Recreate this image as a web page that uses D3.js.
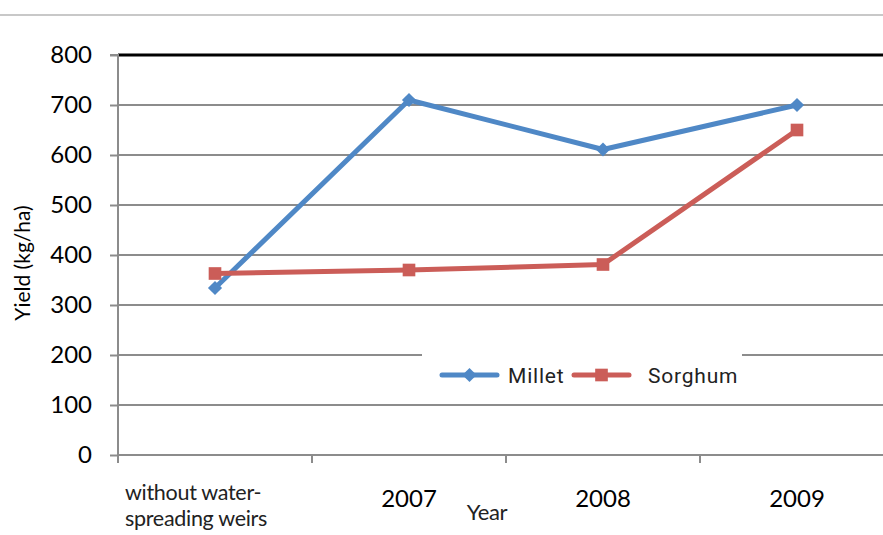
<!DOCTYPE html>
<html>
<head>
<meta charset="utf-8">
<script src="https://cdn.jsdelivr.net/npm/d3@7"></script>
<style>
  body { margin: 0; background: #fff; }
  svg { display: block; }
</style>
</head>
<body>
<svg id="chart"></svg>
<script>
let categories = ["without water-\nspreading weirs", "2007", "2008", "2009"];
let millet = [334, 710, 611, 700];
let sorghum = [363, 370, 381, 650];
let yTicks = [0, 100, 200, 300, 400, 500, 600, 700, 800];

let width = 883;
let height = 535;
let plotLeft = 118, plotTop = 55, plotBottom = 455;
let mainFont = 'Lato, "Open Sans", sans-serif';

let svg = d3.select('#chart').attr('width', width).attr('height', height);

// thin rule at the very top
svg.append('line')
  .attr('x1', 0).attr('x2', width)
  .attr('y1', 15).attr('y2', 15)
  .attr('stroke', '#c8c8c8').attr('stroke-width', 2);

let xScale = d3.scaleBand()
  .domain(categories)
  .range([plotLeft, plotLeft + 194 * 4]);
let yScale = d3.scaleLinear()
  .domain([0, 800])
  .range([plotBottom, plotTop]);

// gridlines
svg.append('g')
  .selectAll('line')
  .data(yTicks.filter(d => d > 0))
  .enter()
  .append('line')
  .attr('x1', plotLeft).attr('x2', width)
  .attr('y1', d => yScale(d)).attr('y2', d => yScale(d))
  .attr('stroke', d => d === 800 ? '#000' : '#8c8c8c')
  .attr('stroke-width', d => d === 800 ? 3 : 2);

// y axis
let yAxis = d3.axisLeft(yScale).tickValues(yTicks).tickSize(8).tickPadding(18);
let gy = svg.append('g')
  .attr('transform', 'translate(' + plotLeft + ',0)')
  .call(yAxis);
gy.select('.domain').attr('stroke', '#8c8c8c').attr('stroke-width', 2)
  .attr('d', 'M-8,' + plotTop + 'H0V' + (plotBottom + 8));
gy.selectAll('.tick line').attr('stroke', '#8c8c8c').attr('stroke-width', 2);
gy.selectAll('.tick text')
  .style('font-family', mainFont)
  .style('font-size', '24px')
  .attr('fill', '#000');

// x axis
let xAxis = d3.axisBottom(xScale).tickSize(0).tickFormat('');
let gx = svg.append('g')
  .attr('transform', 'translate(0,' + plotBottom + ')')
  .call(xAxis);
gx.select('.domain').attr('stroke', '#8c8c8c').attr('stroke-width', 2)
  .attr('d', 'M' + plotLeft + ',0H' + width);
let bounds = categories.map(c => xScale(c)).concat([xScale.range()[1]]);
gx.selectAll('.xt')
  .data(bounds)
  .enter()
  .append('line')
  .attr('x1', d => d).attr('x2', d => d)
  .attr('y1', 0).attr('y2', 8)
  .attr('stroke', '#8c8c8c').attr('stroke-width', 2);

categories.forEach((c, i) => {
  let lines = c.split('\n');
  let lx = i === 0 ? 125 : xScale(c) + xScale.bandwidth() / 2;
  let t = svg.append('text')
    .attr('x', lx)
    .attr('y', i === 0 ? 500 : 507)
    .attr('text-anchor', i === 0 ? 'start' : 'middle')
    .style('font-family', mainFont)
    .style('font-size', i === 0 ? '21.5px' : '24px')
    .style('letter-spacing', i === 0 ? '-0.3px' : '0px')
    .attr('fill', i === 0 ? '#222' : '#000');
  lines.forEach((l, j) => {
    t.append('tspan')
      .attr('x', lx)
      .attr('dy', j === 0 ? 0 : 26)
      .text(l);
  });
});

svg.append('text')
  .attr('x', 487).attr('y', 520)
  .attr('text-anchor', 'middle')
  .style('font-family', mainFont)
  .style('font-size', '22px')
  .style('letter-spacing', '-0.4px')
  .attr('fill', '#222')
  .text('Year');

svg.append('text')
  .attr('transform', 'translate(30,263) rotate(-90)')
  .attr('text-anchor', 'middle')
  .style('font-family', mainFont)
  .style('font-size', '21px')
  .attr('fill', '#000')
  .text('Yield (kg/ha)');

// series
let cx = c => xScale(c) + xScale.bandwidth() / 2;
let line = d3.line()
  .x((d, i) => cx(categories[i]))
  .y(d => yScale(d));

let series = [
  { name: 'Millet', values: millet, color: '#4f88c6', size: 100, rotate: 45 },
  { name: 'Sorghum', values: sorghum, color: '#cb5d58', size: 160, rotate: 0 }
];

series.forEach(s => {
  svg.append('path')
    .attr('d', line(s.values))
    .attr('fill', 'none')
    .attr('stroke', s.color)
    .attr('stroke-width', 5)
    .attr('stroke-linejoin', 'round');
  svg.selectAll('.pt-' + s.name)
    .data(s.values)
    .enter()
    .append('path')
    .attr('d', d3.symbol().type(d3.symbolSquare).size(s.size))
    .attr('transform', (d, i) => 'translate(' + cx(categories[i]) + ',' + yScale(d) + ') rotate(' + s.rotate + ')')
    .attr('fill', s.color);
});

// legend
let legend = svg.append('g').attr('transform', 'translate(422,349)');
legend.append('rect')
  .attr('width', 320).attr('height', 50)
  .attr('fill', '#fff');
let legendX = [20, 152];
let textX = [86, 226];
series.forEach((s, i) => {
  legend.append('line')
    .attr('x1', legendX[i]).attr('x2', legendX[i] + 55)
    .attr('y1', 26).attr('y2', 26)
    .attr('stroke', s.color).attr('stroke-width', 5)
    .attr('stroke-linecap', 'round');
  legend.append('path')
    .attr('d', d3.symbol().type(d3.symbolSquare).size(s.size))
    .attr('transform', 'translate(' + (legendX[i] + 27.5) + ',26) rotate(' + s.rotate + ')')
    .attr('fill', s.color);
  legend.append('text')
    .attr('x', textX[i]).attr('y', 34)
    .style('font-family', 'Roboto, sans-serif')
    .style('font-size', '21px')
    .style('letter-spacing', '0.8px')
    .attr('fill', '#222')
    .text(s.name);
});
</script>
</body>
</html>
